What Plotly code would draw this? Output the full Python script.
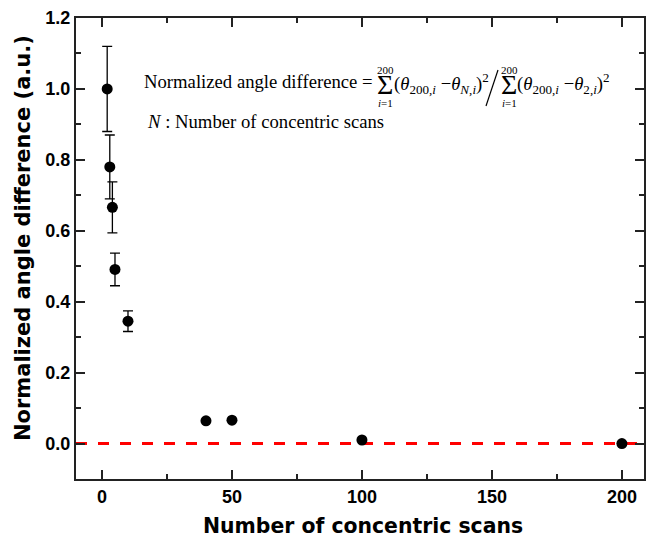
import plotly.graph_objects as go

# ---- data ----
n_scans = [2, 3, 4, 5, 10, 40, 50, 100, 200]
norm_diff = [1.0, 0.78, 0.666, 0.491, 0.345, 0.064, 0.066, 0.010, 0.0]
err = [0.12, 0.09, 0.072, 0.046, 0.029, 0, 0, 0, 0]
ref_level = 0.0

x_range = [-10, 208.5]
y_range = [-0.1, 1.2]
x_ticks = [0, 50, 100, 150, 200]
y_ticks = [0.0, 0.2, 0.4, 0.6, 0.8, 1.0, 1.2]
y_tick_labels = ["0.0", "0.2", "0.4", "0.6", "0.8", "1.0", "1.2"]

W, H = 646, 537
ML, MR, MT, MB = 76, 2, 18, 58
PW, PH = W - ML - MR, H - MT - MB


def px(x):
    return (x - ML) / PW


def py(y):
    return (H - MB - y) / PH


fig = go.Figure()
fig.add_trace(go.Scatter(
    x=n_scans, y=norm_diff, mode="markers",
    marker=dict(color="black", size=11),
    error_y=dict(type="data", array=err, visible=True, color="black",
                 thickness=1.3, width=5),
    showlegend=False,
))

fig.add_shape(type="line", xref="paper", yref="y", x0=0, x1=1,
              y0=ref_level, y1=ref_level, layer="below",
              line=dict(color="#ff0000", width=3, dash="11px,11px"))

# big fraction slash of the formula
fig.add_shape(type="line", xref="paper", yref="paper",
              x0=px(486), y0=py(106), x1=px(498), y1=py(70),
              line=dict(color="black", width=1.2))

tick_font = dict(family="Liberation Sans, Arial", size=18, color="black",
                 weight="bold")
title_font = dict(family="DejaVu Sans", size=20.4, color="black", weight="bold")
ytitle_font = dict(family="DejaVu Sans", size=21, color="black", weight="bold")
axis_common = dict(showline=True, linecolor="#222", linewidth=2, mirror="ticks",
                   ticks="inside", tickcolor="#222", tickwidth=2, ticklen=9,
                   showgrid=False, zeroline=False, tickfont=tick_font,
                   automargin=False)

fig.update_xaxes(range=x_range, tickvals=x_ticks,
                 minor=dict(dtick=25, ticks="inside", ticklen=5, tickwidth=2,
                            tickcolor="#222", showgrid=False),
                 **axis_common)
fig.update_yaxes(range=y_range, tickvals=y_ticks, ticktext=y_tick_labels,
                 minor=dict(dtick=0.1, ticks="inside", ticklen=5, tickwidth=2,
                            tickcolor="#222", showgrid=False),
                 **axis_common)

ann = []
# axis titles
ann.append(dict(text="Number of concentric scans", xref="paper", yref="paper",
                x=px(363), y=py(526), xanchor="center", yanchor="middle",
                showarrow=False, font=title_font))
ann.append(dict(text="Normalized angle difference (a.u.)", xref="paper",
                yref="paper", x=px(23), y=py(238), xanchor="center",
                yanchor="middle", textangle=-90, showarrow=False,
                font=ytitle_font))

serif = "Liberation Serif, Times New Roman"
f19 = dict(family=serif, size=18.7, color="black")
fsig = dict(family=serif, size=28, color="black")
fsm = dict(family=serif, size=11, color="black")


def t(text, x, y, font, xa="left"):
    ann.append(dict(text=text, xref="paper", yref="paper", x=px(x), y=py(y),
                    xanchor=xa, yanchor="middle", showarrow=False, font=font))


t("Normalized angle difference =", 142, 81, f19)
t("\u03a3", 385, 84.5, fsig, "center")
t("200", 385, 69.5, fsm, "center")
t("<i>i</i>=1", 385, 103, fsm, "center")
t("(<i>\u03b8</i><sub>200,<i>i</i></sub> \u2212<i>\u03b8</i><sub><i>N</i>,<i>i</i></sub>)<sup>2</sup>",
  392, 83, f19)
t("\u03a3", 509, 84.5, fsig, "center")
t("200", 509, 69.5, fsm, "center")
t("<i>i</i>=1", 509, 103, fsm, "center")
t("(<i>\u03b8</i><sub>200,<i>i</i></sub> \u2212<i>\u03b8</i><sub>2,<i>i</i></sub>)<sup>2</sup>",
  515, 83, f19)
t("<i>N</i> : Number of concentric scans", 145, 121, f19)

fig.update_layout(width=W, height=H, margin=dict(l=ML, r=MR, t=MT, b=MB),
                  paper_bgcolor="white", plot_bgcolor="white",
                  annotations=ann,
                  # short outward stubs of the major y ticks
                  yaxis2=dict(overlaying="y", side="left", range=y_range,
                              tickvals=y_ticks, ticks="outside", ticklen=5,
                              tickwidth=2, tickcolor="#222",
                              showticklabels=False, showline=False,
                              showgrid=False, zeroline=False,
                              automargin=False))

fig.write_html("out.html", config={"displayModeBar": False},
               post_script="document.body.style.margin='0';"
                           "document.body.style.padding='0';")
